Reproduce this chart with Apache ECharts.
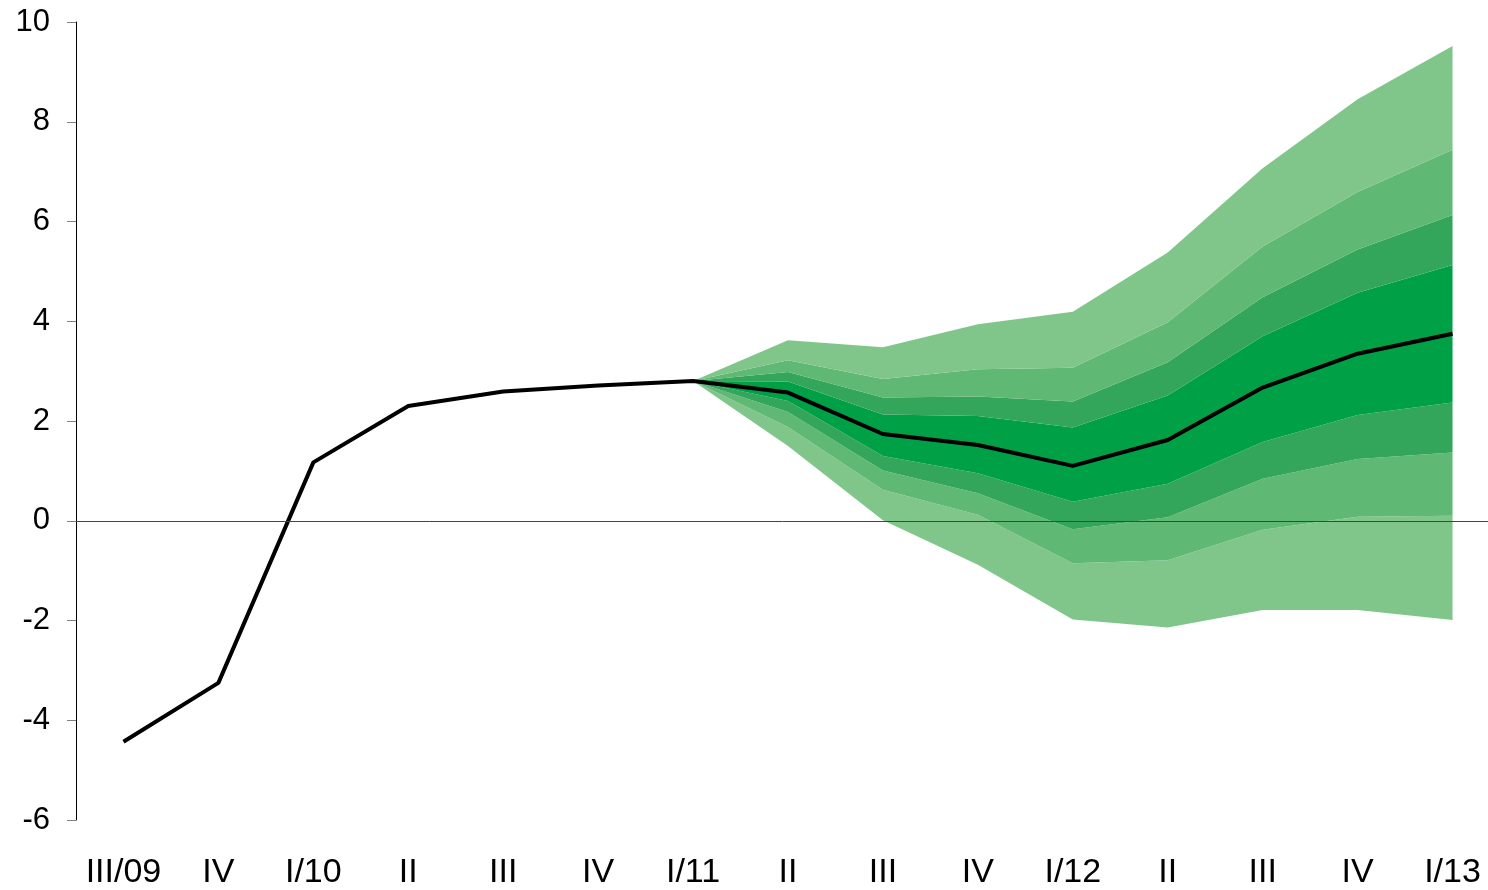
<!DOCTYPE html>
<html>
<head>
<meta charset="utf-8">
<script src="https://cdn.jsdelivr.net/npm/echarts@6/dist/echarts.min.js"></script>
<style>
  html, body { margin: 0; padding: 0; background: #fff; }
  #chart { width: 1488px; height: 890px; }
</style>
</head>
<body>
<div id="chart"></div>
<script>
// quarters
const categories = ['III/09', 'IV', 'I/10', 'II', 'III', 'IV', 'I/11', 'II', 'III', 'IV', 'I/12', 'II', 'III', 'IV', 'I/13'];
// central path (actual + forecast)
const central = [-4.43, -3.25, 1.17, 2.3, 2.59, 2.71, 2.8, 2.57, 1.74, 1.52, 1.1, 1.62, 2.67, 3.35, 3.75];
// fan bounds, outermost first
const upper90 = [null, null, null, null, null, null, 2.8, 3.62, 3.48, 3.94, 4.19, 5.38, 7.07, 8.45, 9.52];
const upper70 = [null, null, null, null, null, null, 2.8, 3.22, 2.84, 3.04, 3.07, 3.98, 5.5, 6.59, 7.44];
const upper50 = [null, null, null, null, null, null, 2.8, 2.98, 2.47, 2.49, 2.39, 3.18, 4.48, 5.44, 6.13];
const upper30 = [null, null, null, null, null, null, 2.8, 2.79, 2.13, 2.1, 1.87, 2.51, 3.7, 4.57, 5.13];
const lower30 = [null, null, null, null, null, null, 2.8, 2.4, 1.3, 0.95, 0.38, 0.74, 1.58, 2.12, 2.37];
const lower50 = [null, null, null, null, null, null, 2.8, 2.18, 1.01, 0.55, -0.17, 0.07, 0.84, 1.24, 1.37];
const lower70 = [null, null, null, null, null, null, 2.8, 1.88, 0.62, 0.12, -0.85, -0.79, -0.18, 0.08, 0.1];
const lower90 = [null, null, null, null, null, null, 2.8, 1.5, 0.01, -0.88, -1.98, -2.14, -1.79, -1.79, -1.99];

const colors = ['#80c68b', '#5fb874', '#33a65b', '#00a047'];

// thickness of a band = upper edge - lower edge
function diff(hi, lo) {
  return hi.map((v, i) => (v == null ? null : +(v - lo[i]).toFixed(3)));
}

// bottom to top: [edge below, edge above, colour]
const layers = [
  [lower90, lower70, colors[0]],
  [lower70, lower50, colors[1]],
  [lower50, lower30, colors[2]],
  [lower30, upper30, colors[3]],
  [upper30, upper50, colors[2]],
  [upper50, upper70, colors[1]],
  [upper70, upper90, colors[0]],
];

const fanSeries = [
  {
    type: 'line',
    data: lower90,
    stack: 'fan',
    stackStrategy: 'all',
    showSymbol: false,
    silent: true,
    lineStyle: { width: 0, opacity: 0 },
    z: 2,
  },
].concat(layers.map(([lo, hi, color]) => ({
  type: 'line',
  data: diff(hi, lo),
  stack: 'fan',
  stackStrategy: 'all',
  showSymbol: false,
  silent: true,
  lineStyle: { width: 0, opacity: 0 },
  areaStyle: { color: color, opacity: 1 },
  z: 2,
})));

const myChart = echarts.init(document.getElementById('chart'));
const option = {
  animation: false,
  backgroundColor: '#fff',
  grid: {
    left: 76,
    top: 22,
    bottom: 70,
    width: 1424,
    outerBoundsMode: 'none',
    containLabel: false,
  },
  xAxis: {
    type: 'category',
    data: categories,
    boundaryGap: true,
    axisLine: { show: false },
    axisTick: { show: false },
    axisLabel: {
      color: '#000',
      fontSize: 34,
      fontFamily: 'Liberation Sans, Arial, sans-serif',
      margin: 36,
      interval: 0,
    },
    splitLine: { show: false },
  },
  yAxis: {
    type: 'value',
    min: -6,
    max: 10,
    interval: 2,
    axisLine: { show: true, lineStyle: { color: '#000', width: 1 } },
    axisTick: { show: true, length: 9, lineStyle: { color: '#808080', width: 1 } },
    axisLabel: {
      color: '#000',
      fontSize: 31,
      fontFamily: 'Liberation Sans, Arial, sans-serif',
      margin: 26,
    },
    splitLine: { show: false },
  },
  series: fanSeries.concat([
    {
      type: 'line',
      data: central,
      showSymbol: false,
      silent: true,
      lineStyle: { color: '#000', width: 4 },
      z: 4,
      markLine: {
        silent: true,
        symbol: 'none',
        label: { show: false },
        lineStyle: { color: '#444', width: 1, type: 'solid' },
        data: [{ yAxis: 0 }],
      },
    },
  ]),
};
myChart.setOption(option);
</script>
</body>
</html>
